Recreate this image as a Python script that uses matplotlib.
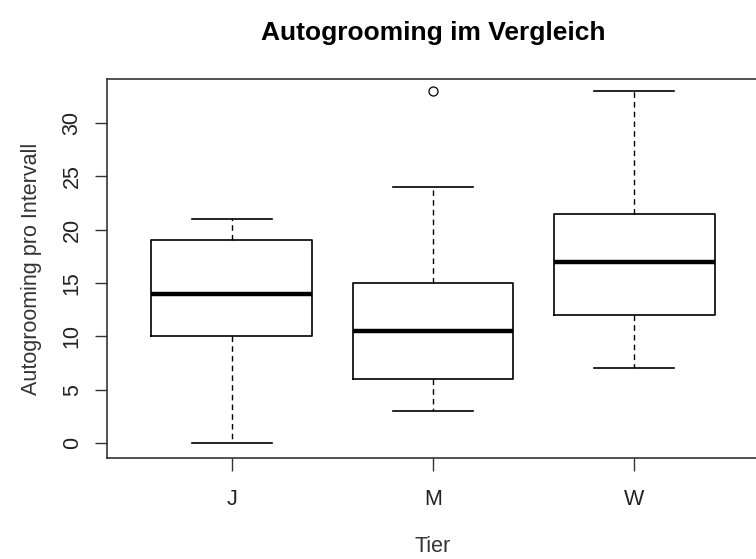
import numpy as np
import matplotlib
matplotlib.use('Agg')
import matplotlib.pyplot as plt

# values
groups = ['J', 'M', 'W']
whislo = [0, 3, 7]
q1 = [10, 6, 12]
med = [14, 10.5, 17]
q3 = [19, 15, 21.5]
whishi = [21, 24, 33]
fliers = [[], [33], []]

plt.rcParams['font.family'] = ['Liberation Sans', 'DejaVu Sans']

stats = []
for i in range(len(groups)):
    stats.append(dict(label=groups[i], whislo=whislo[i], q1=q1[i], med=med[i],
                      q3=q3[i], whishi=whishi[i], fliers=fliers[i]))

fig = plt.figure(figsize=(7.56, 5.59), dpi=100)
ax = fig.add_axes([107/756, 1-458/559, 652/756, 379/559])

ax.bxp(stats, positions=[1, 2, 3], widths=0.8, showfliers=True,
       boxprops=dict(color='black', linewidth=1.2),
       medianprops=dict(color='black', linewidth=3.2),
       whiskerprops=dict(color='black', linewidth=1.0, linestyle=(0, (4, 3))),
       capprops=dict(color='black', linewidth=1.2),
       capwidths=0.4,
       flierprops=dict(marker='o', markersize=6.5, markerfacecolor='none',
                       markeredgecolor='black', markeredgewidth=0.9))

ax.set_xlim(0.38, 3.62)
ax.set_ylim(-1.4, 34.1)
ax.set_yticks([0, 5, 10, 15, 20, 25, 30])
ax.set_xticks([1, 2, 3])
ax.set_xticklabels(groups)

for s in ax.spines.values():
    s.set_color('#333333')
    s.set_linewidth(1.2)

ax.tick_params(axis='both', length=9, width=1.0, color='#333333',
               labelsize=15.5, labelcolor='#222222')
ax.tick_params(axis='y', pad=8.5)
ax.tick_params(axis='x', pad=13)
for t in ax.get_yticklabels():
    t.set_rotation(90)
    t.set_va('center')

ax.set_ylabel('Autogrooming pro Intervall', fontsize=15.5, color='#333333', labelpad=14)
ax.set_xlabel('Tier', fontsize=15.5, color='#333333', labelpad=19)
ax.set_title('Autogrooming im Vergleich', fontsize=19, fontweight='bold', pad=28)

fig.savefig('out.png', dpi=100)
